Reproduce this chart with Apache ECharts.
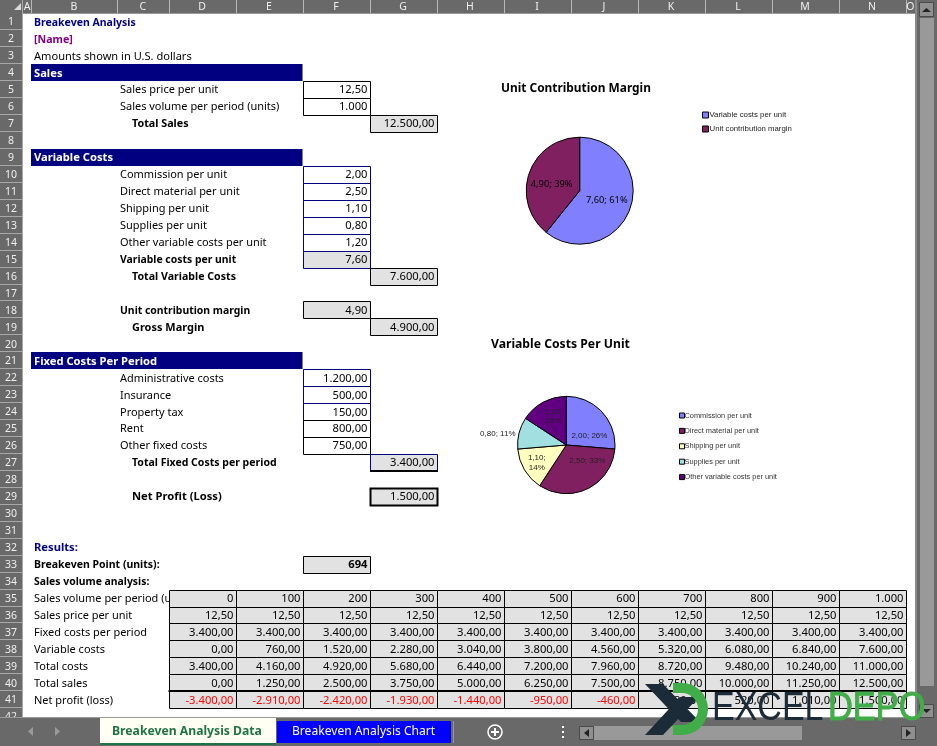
<!DOCTYPE html>
<html><head><meta charset="utf-8">
<style>html,body{margin:0;padding:0;background:#fff}#c{width:937px;height:746px}</style>
<script src="https://cdn.jsdelivr.net/npm/echarts@6/dist/echarts.min.js"></script>
</head><body><div id="c"></div>
<script>
// ---------- chart data ----------
const marginNames = ['Variable costs per unit', 'Unit contribution margin'];
const marginValues = [7.6, 4.9];
const variableNames = ['Commission per unit', 'Direct material per unit', 'Shipping per unit', 'Supplies per unit', 'Other variable costs per unit'];
const variableValues = [2.0, 2.5, 1.1, 0.8, 1.2];
const marginTitle = 'Unit Contribution Margin';
const variableTitle = 'Variable Costs Per Unit';
// ---------- sheet data ----------
const columnLabels = ['A','B','C','D','E','F','G','H','I','J','K','L','M','N','O'];
const sheetTabs = ['Breakeven Analysis Data', 'Breakeven Analysis Chart'];
const salesVolume = [0,100,200,300,400,500,600,700,800,900,1000];
const salesPrice = [12.5,12.5,12.5,12.5,12.5,12.5,12.5,12.5,12.5,12.5,12.5];
const fixedCosts = [3400,3400,3400,3400,3400,3400,3400,3400,3400,3400,3400];
const variableCosts = [0,760,1520,2280,3040,3800,4560,5320,6080,6840,7600];
const totalCosts = [3400,4160,4920,5680,6440,7200,7960,8720,9480,10240,11000];
const totalSales = [0,1250,2500,3750,5000,6250,7500,8750,10000,11250,12500];
const netProfit = [-3400,-2910,-2420,-1930,-1440,-950,-460,30,520,1010,1500];
const analysisLabels = ['Sales volume per period (units)','Sales price per unit','Fixed costs per period','Variable costs','Total costs','Total sales','Net profit (loss)'];

// ---------- layout (not data) ----------
const colX = [23,31,117,168.5,235.5,302.5,369.5,436.5,503.5,570.5,637.5,704.5,771.5,838.5,905.5,915];
const rowTop = r => 13.3 + 16.95 * (r - 1);
const FONT = '"Noto Sans"', FS = 11.2;
const NAVY = '#000080', GRAY = '#e2e2e2', HDR = '#696969';
const els = [];
const fmt = (v, d) => {
  const s = Math.abs(v).toFixed(d).split('.');
  s[0] = s[0].replace(/\B(?=(\d{3})+$)/g, '.');
  return (v < 0 ? '-' : '') + s.join(',');
};
const rect = (x,y,w,h,fill,stroke,lw) => els.push({type:'rect',silent:true,shape:{x,y,width:w,height:h},
  style:{fill:fill||'none',stroke:stroke||'none',lineWidth:lw||1}});
const text = (t,x,y,o={}) => els.push({type:'text',silent:true,style:{text:t,x,y,
  font:(o.bold?'bold ':'')+(o.size||FS)+'px '+(o.family||FONT),fill:o.fill||'#000',
  textAlign:o.align||'left',textVerticalAlign:'middle'},scaleX:o.sx||1,originX:x,originY:y});
const poly = (pts,fill) => els.push({type:'polygon',silent:true,shape:{points:pts},style:{fill}});
const midY = r => rowTop(r) + 9.2;

// sheet background
rect(0,0,937,746,'#ffffff');

// left-hand text
text('Breakeven Analysis',34,midY(1),{bold:true,fill:NAVY,sx:.94});
text('[Name]',34,midY(2),{bold:true,fill:'#800080',sx:.95});
text('Amounts shown in U.S. dollars',34,midY(3),{sx:.99});
[[4,'Sales'],[9,'Variable Costs'],[21,'Fixed Costs Per Period']].forEach(([r,t])=>{
  rect(31,Math.round(rowTop(r)),271.5,17,NAVY);
  text(t,34,midY(r),{bold:true,fill:'#fff'});
});
const indented = [[5,'Sales price per unit'],[6,'Sales volume per period (units)'],[10,'Commission per unit'],[11,'Direct material per unit'],
 [12,'Shipping per unit'],[13,'Supplies per unit'],[14,'Other variable costs per unit'],[22,'Administrative costs'],[23,'Insurance'],
 [24,'Property tax'],[25,'Rent'],[26,'Other fixed costs']];
indented.forEach(([r,t])=>text(t,120,midY(r),{sx:.98}));
[[15,'Variable costs per unit'],[18,'Unit contribution margin']].forEach(([r,t])=>text(t,120,midY(r),{bold:true,sx:.93}));
[[7,'Total Sales',.96],[16,'Total Variable Costs',.95],[19,'Gross Margin',.98],[27,'Total Fixed Costs per period',.94],[29,'Net Profit (Loss)',1]]
  .forEach(([r,t,s])=>text(t,132,midY(r),{bold:true,sx:s}));
[[32,'Results:',NAVY,1],[33,'Breakeven Point (units):','#000',.94],[34,'Sales volume analysis:','#000',.93]]
  .forEach(([r,t,c,s])=>text(t,34,midY(r),{bold:true,fill:c,sx:s}));
analysisLabels.forEach((t,i)=>text(t,34,midY(35+i),{sx:.98}));

// single boxed cells
const colF = 5, colG = 6;
const boxes = [
 [5,colF,'12,50',null,'#000',1],[6,colF,'1.000',null,'#000',1],[7,colG,'12.500,00',GRAY,'#000',1],
 [10,colF,'2,00',null,NAVY,1],[11,colF,'2,50',null,NAVY,1],[12,colF,'1,10',null,NAVY,1],[13,colF,'0,80',null,NAVY,1],[14,colF,'1,20',null,NAVY,1],
 [15,colF,'7,60',GRAY,NAVY,1],[16,colG,'7.600,00',GRAY,'#000',1],[18,colF,'4,90',GRAY,'#000',1],[19,colG,'4.900,00',GRAY,'#000',1],
 [22,colF,'1.200,00',null,NAVY,1],[23,colF,'500,00',null,NAVY,1],[24,colF,'150,00',null,NAVY,1],[25,colF,'800,00',null,'#000',1],[26,colF,'750,00',null,'#000',1],
 [27,colG,'3.400,00',GRAY,NAVY,1],[29,colG,'1.500,00',GRAY,'#000',2],[33,colF,'694',GRAY,'#000',1,true]
];
boxes.forEach(([r,c,t,f,b,w,bold])=>{
  const x=Math.round(colX[c])+.5,y=Math.round(rowTop(r))+.5,x2=Math.round(colX[c+1])+.5,y2=Math.round(rowTop(r+1))+.5;
  rect(x,y,x2-x,y2-y,f,b,w);
  text(t,colX[c+1]-2,midY(r),{align:'right',bold});
});
// heavier bottom rule under G27
rect(Math.round(colX[colG]),Math.round(rowTop(28))-1,Math.round(colX[colG+1])-Math.round(colX[colG])+1,2,'#000');

// analysis table
const tableRows = [[salesVolume,0],[salesPrice,2],[fixedCosts,2],[variableCosts,2],[totalCosts,2],[totalSales,2],[netProfit,2]];
tableRows.forEach(([vals,d],i)=>{
  const r=35+i;
  vals.forEach((v,j)=>{
    const c=3+j;
    const x=Math.round(colX[c])+.5,y=Math.round(rowTop(r))+.5,x2=Math.round(colX[c+1])+.5,y2=Math.round(rowTop(r+1))+.5;
    rect(x,y,x2-x,y2-y,GRAY,'#000',1);
    text(fmt(v,d),colX[c+1]-2,midY(r),{align:'right',fill:v<0?'#ff0000':'#000'});
  });
});
rect(168.5,Math.round(rowTop(41))-1,737,2,'#000');

// column headers
rect(0,0,915,13,HDR);
colX.slice(0,-1).forEach((x,i)=>{
  rect(Math.round(colX[i+1]),0,1,13,'#b8b8b8');
  text(columnLabels[i],(colX[i]+colX[i+1])/2,7,{fill:'#efefef',align:'center',size:10.5});
});
rect(0,13,915,1,'#9a9a9a');
// row headers
rect(0,0,23,718,HDR);
rect(22,0,1,718,'#a8a8a8');
poly([[21,3],[21,10],[14,10]],'#d8d8d8');
for(let r=1;r<=42;r++){
  rect(0,Math.round(rowTop(r+1))-1,23,1,'#a8a8a8');
  text(String(r),11,midY(r),{fill:'#efefef',align:'center',size:10.5});
}
// vertical scrollbar
rect(915,0,22,746,HDR);
rect(915,0,2,718,'#8a8a8a');
rect(919.5,2.5,14,14,'#8f8f8f','#4a4a4a',1);
poly([[922,12],[931,12],[926.5,8]],'#222');
rect(920,18,14,668,'#999999');
rect(919.5,704.5,14,13,'#8f8f8f','#4a4a4a',1);
poly([[922,709],[931,709],[926.5,713]],'#222');
// tab strip
rect(0,718,937,28,HDR);
rect(0,717,915,1,'#9a9a9a');
poly([[33,727],[33,736],[28,731.5]],'#9a9a9a');
poly([[55,727],[55,736],[60,731.5]],'#9a9a9a');
rect(100,718,176,26,'#fffff4');
rect(100,743,176,2,'#217346');
text(sheetTabs[0],112,731.5,{bold:true,fill:'#217346',size:12.2});
rect(277,721,174,22,'#0000ff');
rect(453,721,1,22,'#9a9a9a');
text(sheetTabs[1],292,731.5,{fill:'#fff',size:12.1});
els.push({type:'circle',silent:true,shape:{cx:495,cy:732,r:7},style:{fill:'none',stroke:'#fff',lineWidth:1.5}});
rect(491,731,8,2,'#fff');rect(494,728,2,8,'#fff');
[727,732,737].forEach(y=>rect(562,y-1,2,2,'#fff'));
// horizontal scrollbar
rect(579.5,726.5,14,13,'#8f8f8f','#4a4a4a',1);
poly([[589,729],[589,737],[584,733]],'#222');
rect(594,726,208,14,'#999999');
rect(901.5,726.5,14,13,'#8f8f8f','#4a4a4a',1);
poly([[906,729],[906,737],[911,733]],'#222');

// watermark logo
const logoDark = '#1c2b38', logoGreen = '#41ad49';
poly([[645,684],[663,684],[700,722],[681,722]],logoDark);
poly([[645,735],[663,735],[699,697],[680,697]],logoDark);
rect(673,683,10,10,logoGreen);
rect(673,725,10,10,logoGreen);
els.push({type:'sector',silent:true,shape:{cx:682,cy:709,r:26,r0:16,startAngle:-Math.PI/2,endAngle:Math.PI/2,clockwise:true},style:{fill:logoGreen}});
text('EXCEL',712,709,{size:40,family:'"Liberation Sans"',fill:logoDark,sx:.85});
els.push({type:'text',silent:true,style:{text:'DEPO',x:828,y:709,font:'40px "Liberation Sans"',fill:logoGreen,stroke:logoGreen,lineWidth:1,textVerticalAlign:'middle'},scaleX:.86,originX:828,originY:709});

// ---------- option ----------
const labelFmt = p => fmt(p.value,2)+'; '+Math.round(p.percent)+'%';
const labelFmtWrap = p => fmt(p.value,2)+';\n'+Math.round(p.percent)+'%';
const marginOffsets = [[-1,0],[0,4]];
const variableOffsets = [[3,9.5],[9,-9],[-6,4],[-42,-4],[0,-4.5]];
const marginColors = ['#8080ff','#802060'];
const variableColors = ['#8080ff','#802060','#ffffc0','#a0e0e0','#600080'];
const marginData = marginNames.map((n,i)=>({name:n,value:marginValues[i],
  itemStyle:{color:marginColors[i]},label:{offset:marginOffsets[i]}}));
const wrapped = [false,false,true,false,true];
const variableData = variableNames.map((n,i)=>({name:n,value:variableValues[i],
  itemStyle:{color:variableColors[i]},
  label:{offset:variableOffsets[i],formatter:wrapped[i]?labelFmtWrap:labelFmt}}));
const pieBase = {type:'pie',startAngle:90,clockwise:true,percentPrecision:2,silent:true,animation:false,
  labelLine:{show:false},avoidLabelOverlap:false,emphasis:{disabled:true},
  itemStyle:{borderColor:'#000',borderWidth:1}};
const option = {
  animation:false,
  backgroundColor:'#fff',
  graphic:{elements:els},
  title:[
    {text:marginTitle,left:501,top:83,itemGap:0,padding:0,textStyle:{fontFamily:FONT,fontWeight:'bold',fontSize:11.9,color:'#000'}},
    {text:variableTitle,left:491,top:338.5,padding:0,textStyle:{fontFamily:FONT,fontWeight:'bold',fontSize:12.2,color:'#000'}}
  ],
  legend:[
    {data:marginNames,orient:'vertical',left:702,top:111,padding:0,itemWidth:6,itemHeight:6,itemGap:6,selectedMode:false,
     icon:'rect',itemStyle:{borderColor:'#000',borderWidth:1},
     textStyle:{fontFamily:'"Liberation Sans"',fontSize:7.8,color:'#222',padding:[0,0,0,-4]}},
    {data:variableNames,orient:'vertical',left:679,top:412,padding:0,itemWidth:5,itemHeight:5,itemGap:8.4,selectedMode:false,
     icon:'rect',itemStyle:{borderColor:'#000',borderWidth:1},
     textStyle:{fontFamily:'"Liberation Sans"',fontSize:7.4,color:'#333',padding:[0,0,0,-5]}}
  ],
  series:[
    Object.assign({},pieBase,{name:'margin',center:[579.7,190.7],radius:[0,53.5],data:marginData,
      label:{position:'inside',formatter:labelFmt,fontFamily:FONT,fontSize:9.3,color:'#000'}}),
    Object.assign({},pieBase,{name:'variable',center:[566.3,445],radius:[0,48.7],data:variableData,
      label:{position:'inside',formatter:labelFmt,fontFamily:'"Liberation Sans"',fontSize:8,lineHeight:9.5,color:'#222'}})
  ]
};
const chart = echarts.init(document.getElementById('c'),null,{width:937,height:746,renderer:'canvas'});
chart.setOption(option);
</script></body></html>
